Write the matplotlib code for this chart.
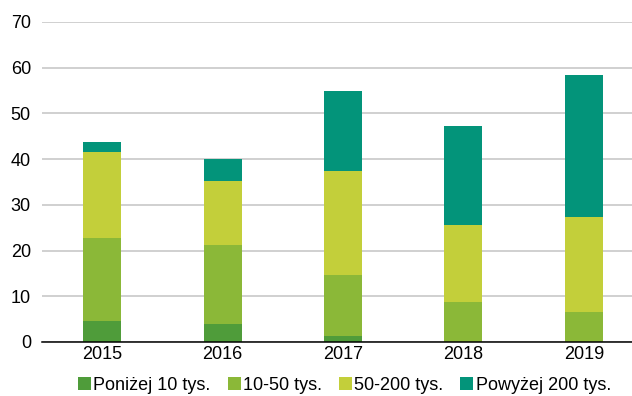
import matplotlib
matplotlib.use("Agg")
import matplotlib.pyplot as plt
import numpy as np

years = ["2015", "2016", "2017", "2018", "2019"]
series_names = ["Poniżej 10 tys.", "10-50 tys.", "50-200 tys.", "Powyżej 200 tys."]
below_10 = [4.5, 3.9, 1.4, 0.0, 0.0]
from_10_to_50 = [18.2, 17.4, 13.3, 8.7, 6.6]
from_50_to_200 = [18.9, 13.9, 22.7, 16.9, 20.8]
above_200 = [2.2, 4.8, 17.6, 21.7, 31.0]
y_ticks = [0, 10, 20, 30, 40, 50, 60, 70]

colors = ["#4f9c3a", "#8bb838", "#c3cf3a", "#03947a"]

plt.rcParams["font.family"] = ["Liberation Sans", "DejaVu Sans"]

fig = plt.figure(figsize=(6.32, 3.96), dpi=100)
ax = fig.add_axes([42 / 632, 54 / 396, 1 - 42 / 632, 320 / 396])

x = np.arange(len(years))
bottom = np.zeros(len(years))
handles = []
for name, vals, col in zip(series_names,
                           [below_10, from_10_to_50, from_50_to_200, above_200],
                           colors):
    vals = np.array(vals)
    b = ax.bar(x, vals, width=0.315, bottom=bottom, color=col, label=name,
               edgecolor="none", zorder=3)
    handles.append(b)
    bottom += vals

ax.set_ylim(0, 70)
ax.set_xlim(-0.5, 4.4)
ax.set_yticks(y_ticks)
ax.set_xticks(x)
ax.set_xticklabels(years)
ax.tick_params(axis="both", length=0, labelsize=13, colors="#000000")
ax.tick_params(axis="y", pad=8)
ax.tick_params(axis="x", pad=3)
ax.yaxis.grid(True, color="#c4c4c4", linewidth=1.1, zorder=0)
ax.set_axisbelow(True)
for side in ["top", "right", "left"]:
    ax.spines[side].set_visible(False)
ax.spines["bottom"].set_color("#000000")
ax.spines["bottom"].set_linewidth(1.1)
ax.spines["bottom"].set_zorder(4)

fig.legend(handles=handles, labels=series_names, loc="lower center",
           bbox_to_anchor=(0.545, -0.035), ncol=4, frameon=False,
           fontsize=13, handlelength=0.72, handleheight=0.72,
           handletextpad=0.12, columnspacing=0.95)

fig.savefig("out.png", dpi=100)
